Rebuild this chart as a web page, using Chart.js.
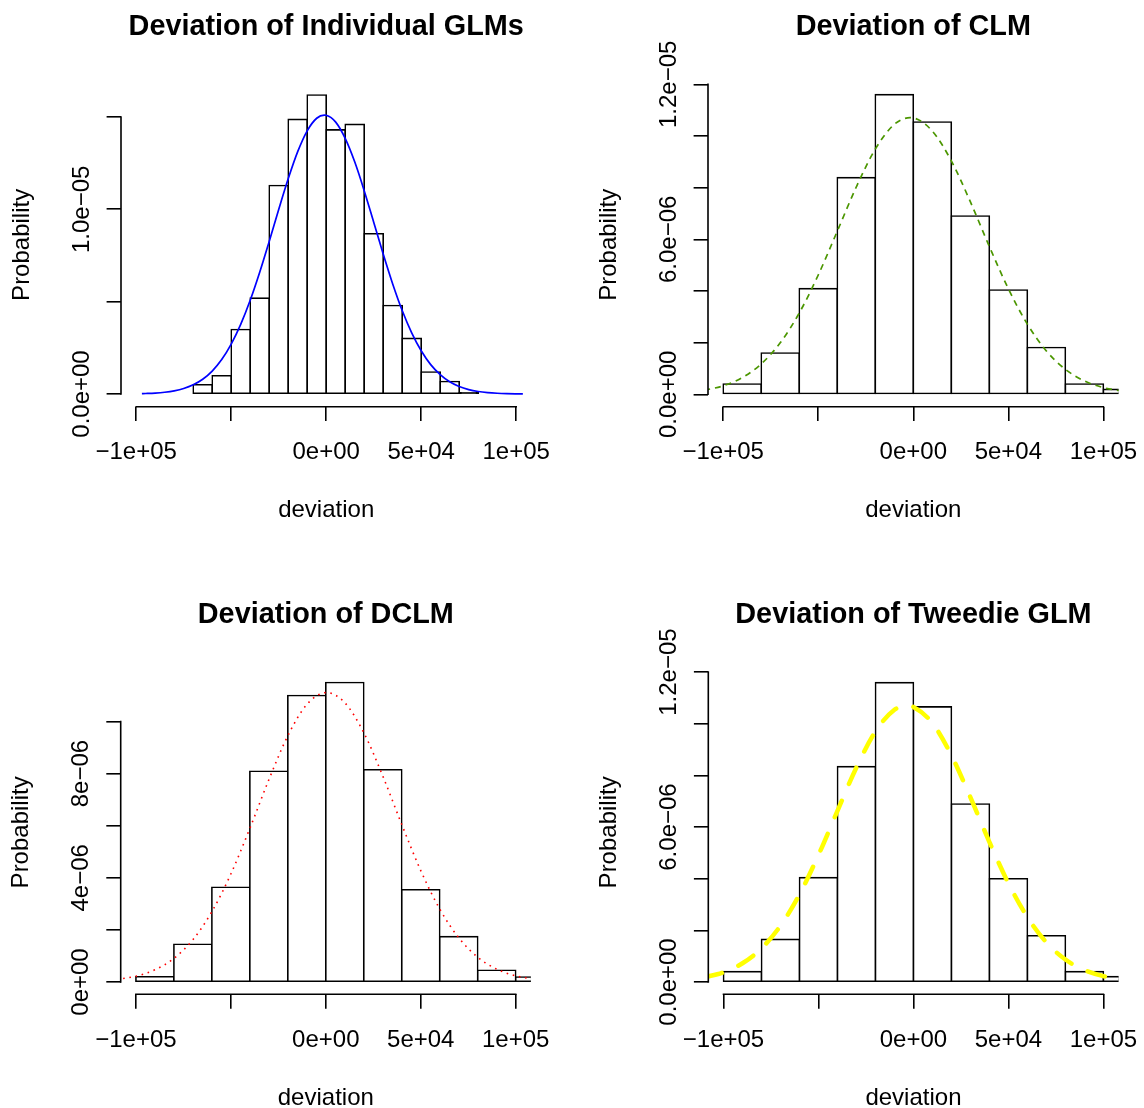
<!DOCTYPE html>
<html>
<head>
<meta charset="utf-8">
<title>Deviation histograms</title>
<script src="https://cdn.jsdelivr.net/npm/chart.js@4.4.0/dist/chart.umd.min.js"></script>
<style>
  body { margin: 0; background: #fff; }
  #wrap { position: relative; width: 1144px; height: 1108px; }
  #wrap canvas { position: absolute; }
</style>
</head>
<body>
<div id="wrap">
  <canvas id="p1" width="572" height="554" style="left:0;top:0"></canvas>
  <canvas id="p2" width="572" height="554" style="left:572px;top:0"></canvas>
  <canvas id="p3" width="572" height="554" style="left:0;top:554px"></canvas>
  <canvas id="p4" width="572" height="554" style="left:572px;top:554px"></canvas>
</div>
<script>
// --- data ---
// histogram bin centres
const glmBins = [-65000, -55000, -45000, -35000, -25000, -15000, -5000, 5000, 15000, 25000, 35000, 45000, 55000, 65000, 75000]
const wideBins = [-90000, -70000, -50000, -30000, -10000, 10000, 30000, 50000, 70000, 90000, 110000]

// densities per bin
const glmDensity = [0.50e-6, 0.99e-6, 3.49e-6, 5.19e-6, 11.29e-6, 14.87e-6, 16.19e-6, 14.30e-6, 14.60e-6, 8.68e-6, 4.79e-6, 3.01e-6, 1.19e-6, 0.68e-6, 0.07e-6]
const clmDensity = [0.40e-6, 1.60e-6, 4.09e-6, 8.39e-6, 11.60e-6, 10.54e-6, 6.90e-6, 4.04e-6, 1.81e-6, 0.40e-6, 0.19e-6]
const dclmDensity = [0.20e-6, 1.45e-6, 3.64e-6, 8.09e-6, 11.00e-6, 11.50e-6, 8.15e-6, 3.54e-6, 1.74e-6, 0.45e-6, 0.19e-6]
const tweedieDensity = [0.40e-6, 1.65e-6, 4.04e-6, 8.34e-6, 11.59e-6, 10.65e-6, 6.89e-6, 4.00e-6, 1.79e-6, 0.40e-6, 0.21e-6]

// fitted density curves
const glmCurveX = [-97000, -95000, -90000, -85000, -80000, -75000, -70000, -65000, -60000, -55000, -50000, -45000, -40000, -35000, -30000, -25000, -20000, -15000, -10000, -5000, -1000, 0, 5000, 10000, 15000, 20000, 25000, 30000, 35000, 40000, 45000, 50000, 55000, 60000, 65000, 70000, 75000, 80000, 85000, 90000, 95000, 100000, 103500]
const glmCurveY = [0.020e-6, 0.027e-6, 0.051e-6, 0.096e-6, 0.172e-6, 0.297e-6, 0.496e-6, 0.799e-6, 1.243e-6, 1.863e-6, 2.699e-6, 3.766e-6, 5.072e-6, 6.591e-6, 8.263e-6, 9.990e-6, 11.65e-6, 13.12e-6, 14.25e-6, 14.93e-6, 15.10e-6, 15.09e-6, 14.72e-6, 13.84e-6, 12.57e-6, 11.01e-6, 9.30e-6, 7.58e-6, 5.96e-6, 4.52e-6, 3.31e-6, 2.34e-6, 1.59e-6, 1.05e-6, 0.663e-6, 0.406e-6, 0.240e-6, 0.136e-6, 0.075e-6, 0.040e-6, 0.020e-6, 0.010e-6, 0.006e-6]

const clmCurveX = [-110000, -100000, -90000, -80000, -70000, -60000, -50000, -40000, -30000, -20000, -10000, -1700, 0, 10000, 20000, 30000, 40000, 50000, 60000, 70000, 80000, 90000, 100000, 110000]
const clmCurveY = [0.156e-6, 0.329e-6, 0.646e-6, 1.176e-6, 1.994e-6, 3.146e-6, 4.619e-6, 6.313e-6, 8.025e-6, 9.492e-6, 10.45e-6, 10.71e-6, 10.70e-6, 10.19e-6, 9.038e-6, 7.456e-6, 5.723e-6, 4.088e-6, 2.716e-6, 1.679e-6, 0.967e-6, 0.517e-6, 0.258e-6, 0.119e-6]

const dclmCurveX = [-110000, -100000, -90000, -80000, -70000, -60000, -50000, -40000, -30000, -20000, -10000, 400, 10000, 20000, 30000, 40000, 50000, 60000, 70000, 80000, 90000, 100000, 110000]
const dclmCurveY = [0.098e-6, 0.222e-6, 0.467e-6, 0.905e-6, 1.624e-6, 2.699e-6, 4.146e-6, 5.897e-6, 7.763e-6, 9.453e-6, 10.65e-6, 11.11e-6, 10.72e-6, 9.572e-6, 7.908e-6, 6.046e-6, 4.277e-6, 2.801e-6, 1.698e-6, 0.951e-6, 0.493e-6, 0.237e-6, 0.105e-6]

const tweedieCurveX = [-110000, -100000, -90000, -80000, -70000, -60000, -50000, -40000, -30000, -20000, -10000, -3500, 0, 10000, 20000, 30000, 40000, 50000, 60000, 70000, 80000, 90000, 100000, 110000]
const tweedieCurveY = [0.181e-6, 0.375e-6, 0.725e-6, 1.303e-6, 2.180e-6, 3.392e-6, 4.916e-6, 6.626e-6, 8.311e-6, 9.702e-6, 10.54e-6, 10.70e-6, 10.65e-6, 10.02e-6, 8.772e-6, 7.145e-6, 5.416e-6, 3.821e-6, 2.508e-6, 1.532e-6, 0.870e-6, 0.461e-6, 0.227e-6, 0.104e-6]

// axis ticks
const xTicks = [-100000, -50000, 0, 50000, 100000]
const xTickLabels = ['\u22121e+05', '', '0e+00', '5e+04', '1e+05']
const yTicksA = [0, 5e-6, 10e-6, 15e-6]
const yLabelsA = ['0.0e+00', '', '1.0e\u221205', '']
const yTicksB = [0, 2e-6, 4e-6, 6e-6, 8e-6, 10e-6, 12e-6]
const yLabelsB = ['0.0e+00', '', '', '6.0e\u221206', '', '', '1.2e\u221205']
const yTicksC = [0, 2e-6, 4e-6, 6e-6, 8e-6, 10e-6]
const yLabelsC = ['0e+00', '', '4e\u221206', '', '8e\u221206', '']

// --- layout / style ---
const W = 572, H = 554, AXW = 30, LW = 1.6, TL = 14.4
const FONT = '"Liberation Sans", Arial, Helvetica, sans-serif'

const panels = [
    {
        id: 'p1', title: 'Deviation of Individual GLMs', titleY: 34.5,
        bins: glmBins, dens: glmDensity, cx: glmCurveX, cy: glmCurveY,
        line: { color: '#0000ff', width: 1.7, dash: [], cap: 'butt' },
        yTicks: yTicksA, yLabels: yLabelsA,
        box: { left: 121, right: 531.4, top: 83, bottom: 406.7, zero: 394, k: 18.47e6 },
    },
    {
        id: 'p2', title: 'Deviation of CLM', titleY: 34.5,
        bins: wideBins, dens: clmDensity, cx: clmCurveX, cy: clmCurveY,
        line: { color: '#4b9600', width: 1.7, dash: [6, 5], cap: 'butt' },
        yTicks: yTicksB, yLabels: yLabelsB,
        box: { left: 136, right: 546.6, top: 82.8, bottom: 406.7, zero: 394.3, k: 25.83e6 },
    },
    {
        id: 'p3', title: 'Deviation of DCLM', titleY: 68.5,
        bins: wideBins, dens: dclmDensity, cx: dclmCurveX, cy: dclmCurveY,
        line: { color: '#ff0000', width: 1.6, dash: [1.6, 4.7], cap: 'butt' },
        yTicks: yTicksC, yLabels: yLabelsC,
        box: { left: 120.7, right: 530.9, top: 116.4, bottom: 440.3, zero: 428, k: 26.05e6 },
    },
    {
        id: 'p4', title: 'Deviation of Tweedie GLM', titleY: 68.5,
        bins: wideBins, dens: tweedieDensity, cx: tweedieCurveX, cy: tweedieCurveY,
        line: { color: '#ffff00', width: 4.5, dash: [18, 18], cap: 'round' },
        yTicks: yTicksB, yLabels: yLabelsB,
        box: { left: 136.3, right: 546.6, top: 116.4, bottom: 440.3, zero: 428, k: 25.83e6 },
    },
]
const panelById = {}
panels.forEach(p => (panelById[p.id] = p))

// R-style axes: line only across the tick range, rotated y labels
const rAxes = {
    id: 'rAxes',
    afterDraw(chart) {
        const p = panelById[chart.canvas.id]
        const { ctx, chartArea: a } = chart
        const x = chart.scales.x, y = chart.scales.y
        const yt = p.yTicks
        ctx.save()
        ctx.strokeStyle = '#000'
        ctx.lineWidth = LW
        ctx.beginPath()
        ctx.moveTo(x.getPixelForValue(xTicks[0]) - LW / 2, a.bottom)
        ctx.lineTo(x.getPixelForValue(xTicks[xTicks.length - 1]) + LW / 2, a.bottom)
        ctx.moveTo(a.left, y.getPixelForValue(yt[0]) + LW / 2)
        ctx.lineTo(a.left, y.getPixelForValue(yt[yt.length - 1]) - LW / 2)
        ctx.stroke()

        ctx.fillStyle = '#000'
        ctx.textAlign = 'center'
        ctx.textBaseline = 'alphabetic'
        ctx.font = 'bold 28.8px ' + FONT
        ctx.fillText(p.title, (a.left + a.right) / 2, p.titleY)

        ctx.font = '24px ' + FONT
        xTicks.forEach((v, i) => {
            if (xTickLabels[i]) ctx.fillText(xTickLabels[i], x.getPixelForValue(v), a.bottom + 52.6)
        })
        ctx.fillText('deviation', (a.left + a.right) / 2, a.bottom + 110.6)

        yt.forEach((v, i) => {
            if (!p.yLabels[i]) return
            ctx.save()
            ctx.translate(a.left - 32.5, y.getPixelForValue(v))
            ctx.rotate(-Math.PI / 2)
            ctx.fillText(p.yLabels[i], 0, 0)
            ctx.restore()
        })
        ctx.save()
        ctx.translate(a.left - 92.5, (a.top + a.bottom) / 2)
        ctx.rotate(-Math.PI / 2)
        ctx.fillText('Probability', 0, 0)
        ctx.restore()
        ctx.restore()
    },
}

const tickGrid = { offset: false, drawOnChartArea: false, drawTicks: true, tickLength: TL, color: '#000', lineWidth: LW }

function makeChart(p) {
    const b = p.box
    const yMin = -(b.bottom - b.zero) / b.k
    const yMax = (b.zero - b.top) / b.k
    return new Chart(document.getElementById(p.id), {
        type: 'bar',
        data: {
            datasets: [
                {
                    type: 'line',
                    order: 0,
                    data: p.cx.map((x, i) => ({ x, y: p.cy[i] })),
                    borderColor: p.line.color,
                    borderWidth: p.line.width,
                    borderDash: p.line.dash,
                    borderCapStyle: p.line.cap,
                    pointRadius: 0,
                    cubicInterpolationMode: 'monotone',
                    fill: false,
                    clip: 0,
                },
                {
                    type: 'bar',
                    order: 1,
                    data: p.bins.map((x, i) => ({ x, y: p.dens[i] })),
                    // a bin lower than its own outline shows as a solid black line
                    backgroundColor: c => (p.dens[c.dataIndex] * b.k < 2 * LW ? '#000000' : '#ffffff'),
                    borderColor: '#000000',
                    borderWidth: LW,
                    borderSkipped: false,
                    // centre the outline on the bin edges, like rect() in R
                    inflateAmount: LW / 2,
                    barPercentage: 1,
                    categoryPercentage: 1,
                    clip: 0,
                },
            ],
        },
        options: {
            responsive: false,
            animation: false,
            devicePixelRatio: 1,
            layout: {
                padding: { left: b.left - AXW, right: W - b.right, top: b.top, bottom: H - b.bottom - AXW },
            },
            plugins: { legend: { display: false }, tooltip: { enabled: false } },
            scales: {
                x: {
                    type: 'linear',
                    min: -108000,
                    max: 108000,
                    offset: false,
                    grid: tickGrid,
                    border: { display: false },
                    ticks: { display: false },
                    afterBuildTicks: s => { s.ticks = xTicks.map(v => ({ value: v })) },
                    afterFit: s => { s.height = AXW },
                },
                y: {
                    type: 'linear',
                    min: yMin,
                    max: yMax,
                    grid: tickGrid,
                    border: { display: false },
                    ticks: { display: false },
                    afterBuildTicks: s => { s.ticks = p.yTicks.map(v => ({ value: v })) },
                    afterFit: s => { s.width = AXW },
                },
            },
        },
        plugins: [rAxes],
    })
}

panels.forEach(makeChart)
</script>
</body>
</html>
